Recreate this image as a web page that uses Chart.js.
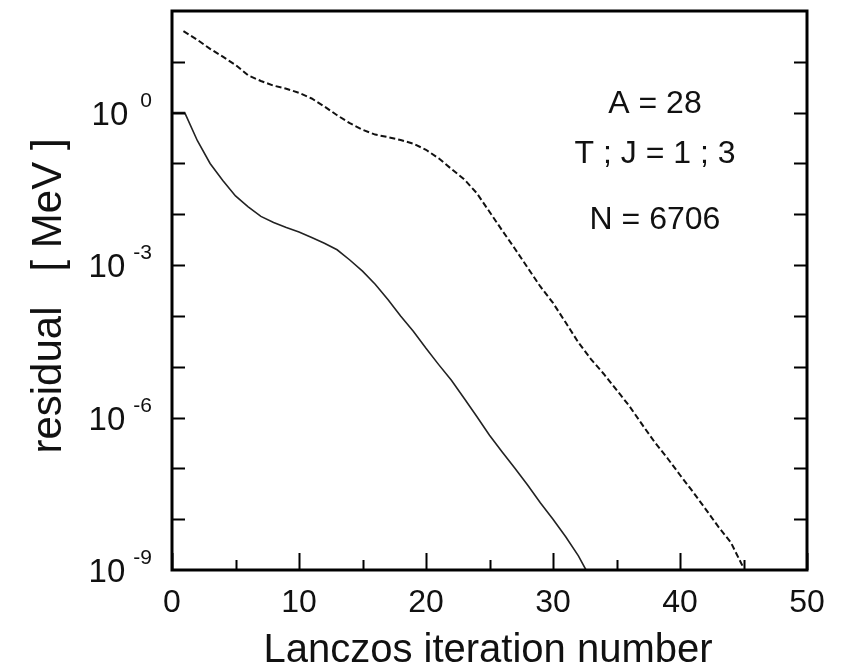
<!DOCTYPE html>
<html>
<head>
<meta charset="utf-8">
<script src="https://cdn.jsdelivr.net/npm/chart.js@4.4.1/dist/chart.umd.min.js"></script>
<style>
  html, body { margin: 0; padding: 0; background: #fff; }
</style>
</head>
<body>
<canvas id="residualChart" width="841" height="670"></canvas>
<script>
// solid curve (lowest state)
const solidIter = [0, 1, 2, 3, 4, 5, 6, 7, 8, 9, 10, 11, 12, 13, 14, 15, 16, 17, 18, 19, 20,
  21, 22, 23, 24, 25, 26, 27, 28, 29, 30, 31, 32, 32.6];
const solidResidual = [1, 1, 0.28, 0.1, 0.046, 0.023, 0.014, 9.1e-3, 6.9e-3, 5.5e-3, 4.5e-3,
  3.5e-3, 2.7e-3, 2.0e-3, 1.26e-3, 7.6e-4, 4.2e-4, 2.1e-4, 1.0e-4, 5.0e-5, 2.3e-5,
  1.1e-5, 5.4e-6, 2.4e-6, 1.05e-6, 4.5e-7, 2.1e-7, 1.0e-7, 4.7e-8, 2.1e-8, 1.0e-8,
  4.5e-9, 1.9e-9, 1.0e-9];

// dashed curve
const dashedIter = [0.9, 2, 3, 4, 5, 6, 7, 8, 9, 10, 11, 12, 13, 14, 15, 16, 17, 18, 19, 20,
  21, 22, 23, 24, 25, 26, 27, 28, 29, 30, 31, 32, 33, 34, 35, 36, 37, 38, 39, 40,
  41, 42, 43, 44, 45];
const dashedResidual = [40, 27, 18, 12.6, 8.7, 5.4, 4.2, 3.4, 2.95, 2.45, 1.9, 1.32, 0.89,
  0.62, 0.46, 0.37, 0.33, 0.29, 0.245, 0.186, 0.126, 0.078, 0.049, 0.026, 0.0112,
  4.8e-3, 2.1e-3, 8.9e-4, 3.8e-4, 1.8e-4, 7.4e-5, 3.0e-5, 1.4e-5, 7.2e-6, 3.5e-6,
  1.7e-6, 7.4e-7, 3.3e-7, 1.6e-7, 7.4e-8, 3.5e-8, 1.6e-8, 7.2e-9, 3.5e-9, 1.1e-9];

const xTickLabels = [0, 10, 20, 30, 40, 50];
const xMinorTicks = [5, 15, 25, 35, 45];
const yDecades = [1e-8, 1e-7, 1e-6, 1e-5, 1e-4, 1e-3, 1e-2, 1e-1, 1e0, 1e1];
const yLabelValues = [1e0, 1e-3, 1e-6, 1e-9];
const yLabelExponents = ["0", "-3", "-6", "-9"];

const xTitle = "Lanczos iteration number";
const yTitle = "residual   [ MeV ]";
const infoLines = ["A = 28", "T ; J = 1 ; 3", "N = 6706"];

const FONT = '"Liberation Sans", Arial, sans-serif';
const INK = "#111";

function toPoints(xs, ys) {
  return xs.map((x, i) => ({ x: x, y: ys[i] }));
}

// frame, inward ticks, labels and titles, placed with the chart's scales
const axesDecor = {
  id: "axesDecor",
  afterDraw(chart) {
    const ctx = chart.ctx;
    const area = chart.chartArea;
    const xs = chart.scales.x;
    const ys = chart.scales.y;
    ctx.save();
    ctx.strokeStyle = "#000";
    ctx.fillStyle = INK;

    // frame
    ctx.lineWidth = 3;
    ctx.strokeRect(area.left, area.top, area.right - area.left, area.bottom - area.top);

    // y ticks on both sides
    ctx.lineWidth = 2;
    ctx.beginPath();
    yDecades.forEach((v) => {
      const py = Math.round(ys.getPixelForValue(v)) + 0.5;
      ctx.moveTo(area.left, py);
      ctx.lineTo(area.left + 13, py);
      ctx.moveTo(area.right, py);
      ctx.lineTo(area.right - 13, py);
    });
    // x ticks, bottom only
    xTickLabels.forEach((v) => {
      const px = Math.round(xs.getPixelForValue(v)) + 0.5;
      ctx.moveTo(px, area.bottom);
      ctx.lineTo(px, area.bottom - 17);
    });
    xMinorTicks.forEach((v) => {
      const px = Math.round(xs.getPixelForValue(v)) + 0.5;
      ctx.moveTo(px, area.bottom);
      ctx.lineTo(px, area.bottom - 10);
    });
    ctx.stroke();

    // x tick labels
    ctx.font = "32px " + FONT;
    ctx.textAlign = "center";
    ctx.textBaseline = "alphabetic";
    xTickLabels.forEach((v) => {
      ctx.fillText(String(v), xs.getPixelForValue(v), area.bottom + 42);
    });

    // y tick labels: 10 with superscript exponent
    yLabelValues.forEach((v, i) => {
      const py = ys.getPixelForValue(v);
      const expRight = area.left - 20;
      ctx.font = "21px " + FONT;
      ctx.textAlign = "right";
      ctx.fillText(yLabelExponents[i], expRight, py - 6);
      const expW = ctx.measureText(yLabelExponents[i]).width;
      const gap = yLabelExponents[i] === "0" ? 12 : 8;
      ctx.font = "33px " + FONT;
      ctx.fillText("10", expRight - expW - gap, py + 12);
    });

    // axis titles
    ctx.font = "40px " + FONT;
    ctx.textAlign = "center";
    ctx.fillText(xTitle, 488, 662);
    ctx.save();
    ctx.font = "42px " + FONT;
    ctx.translate(61, 296);
    ctx.rotate(-Math.PI / 2);
    ctx.fillText(yTitle, 0, 0);
    ctx.restore();

    // info text
    ctx.font = "32px " + FONT;
    const cx = 655;
    ctx.fillText(infoLines[0], cx, 113);
    ctx.fillText(infoLines[1], cx, 163);
    ctx.fillText(infoLines[2], cx, 229);

    ctx.restore();
  },
};

const chart = new Chart(document.getElementById("residualChart"), {
  type: "scatter",
  data: {
    datasets: [
      {
        label: "solid",
        data: toPoints(solidIter, solidResidual),
        showLine: true,
        borderColor: "#222",
        borderWidth: 1.6,
        pointRadius: 0,
        tension: 0,
      },
      {
        label: "dashed",
        data: toPoints(dashedIter, dashedResidual),
        showLine: true,
        borderColor: "#111",
        borderWidth: 2,
        borderDash: [6, 3],
        pointRadius: 0,
        tension: 0,
      },
    ],
  },
  options: {
    responsive: false,
    animation: false,
    layout: { padding: { left: 172, right: 34, top: 11, bottom: 100 } },
    plugins: { legend: { display: false }, tooltip: { enabled: false } },
    scales: {
      x: { type: "linear", min: 0, max: 50, display: false },
      y: { type: "logarithmic", min: 1e-9, max: 1e2, display: false },
    },
  },
  plugins: [axesDecor],
});
</script>
</body>
</html>
